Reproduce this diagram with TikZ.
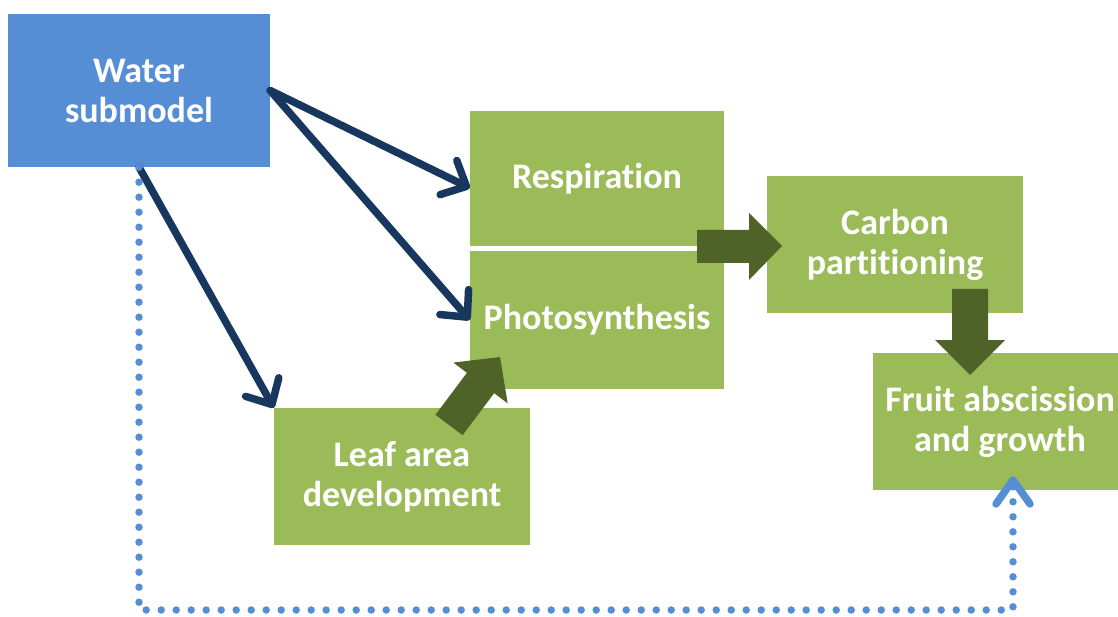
\documentclass[tikz,border=0pt]{standalone}
\usepackage{fontspec}
\setmainfont{Carlito}[Ligatures=NoCommon]
\usetikzlibrary{arrows.meta}
\definecolor{waterblue}{HTML}{558ED5}
\definecolor{boxgreen}{HTML}{9BBB59}
\definecolor{darkgreen}{HTML}{4F6228}
\definecolor{navy}{HTML}{17375E}

\begin{document}
\begin{tikzpicture}[x=1pt,y=-1pt,
  box/.style={fill=boxgreen, text=white, align=center, inner sep=0pt,
    font=\fontsize{36}{40}\selectfont\bfseries},
  waterbox/.style={box, fill=waterblue},
  flow/.style={draw=navy, line width=7.5pt, line cap=round,
    -{Straight Barb[length=20pt,width=38pt,round]}},
  fatarrow/.style={fill=darkgreen, draw=none},
  feedback/.style={draw=waterblue, line width=7.5pt, line cap=round,
    dash pattern=on 0pt off 15pt,
    -{Straight Barb[length=24pt,width=34pt,round]}}]
  \useasboundingbox (0,0) rectangle (1118,617);

  % boxes
  \node[waterbox, minimum width=262pt, minimum height=153pt] (water) at (139,90.5) {Water\\submodel};
  \node[box, minimum width=254pt, minimum height=135pt] (resp) at (597,178.5) {Respiration};
  \node[box, minimum width=254pt, minimum height=138pt] (photo) at (597,320) {Photosynthesis};
  \node[box, minimum width=256pt, minimum height=137pt] (leaf) at (402,476.5) {Leaf area\\development};
  \node[box, minimum width=256pt, minimum height=137pt] (carbon) at (895,244.5) {Carbon\\partitioning};
  \node[box, minimum width=254pt, minimum height=137pt] (fruit) at (1000,421.5) {Fruit abscission\\and growth};

  % water effects
  \draw[flow] (water.east) -- ([yshift=-9.5pt]resp.west);
  \draw[flow] (water.east) -- (photo.west);
  \draw[flow] (water.south) -- (leaf.north west);
  \draw[feedback] (water.south) |- (1013,610) -- ([shift={(13pt,14pt)}]fruit.south);

  % carbon flow
  \fill[fatarrow] (697,230) -- (749,230) -- (749,213) -- (782,246)
    -- (749,280) -- (749,263) -- (697,263) -- cycle;
  \fill[fatarrow] (952,289) -- (988,289) -- (988,340) -- (1005,340)
    -- (970,375) -- (935,340) -- (952,340) -- cycle;
  \fill[fatarrow] (462.6,435.2) -- (494.1,393.2) -- (507.7,403.4) -- (500,357)
    -- (453.3,362.6) -- (466.9,372.8) -- (435.4,414.8) -- cycle;
\end{tikzpicture}
\end{document}
